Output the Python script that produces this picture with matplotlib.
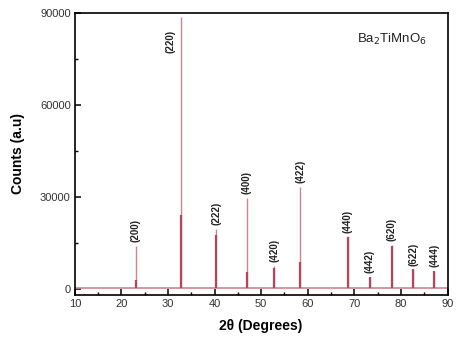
import matplotlib
matplotlib.use("Agg")
import matplotlib.pyplot as plt
from matplotlib.ticker import MultipleLocator

plt.rcParams['font.family'] = ['Liberation Sans', 'DejaVu Sans']

# Peak data
hkl = ["(200)", "(220)", "(222)", "(400)", "(420)", "(422)",
       "(440)", "(442)", "(620)", "(622)", "(444)"]
two_theta = [23.05, 32.85, 40.4, 46.9, 52.85, 58.4, 68.6, 73.3, 78.0, 82.6, 87.2]
intensity = [14100, 88700, 19600, 29700, 7700, 33300, 17200, 4000, 14400, 6500, 6000]
shoulder = [3000, 24000, 17500, 5500, 7000, 9000, 17000, 4000, 14000, 6500, 6000]
baseline_x = [10, 90]
baseline_y = [300, 300]

fig = plt.figure(figsize=(4.59, 3.41), dpi=100)
ax = fig.add_axes([0.163, 0.135, 0.812, 0.827])

thin_c = '#c98590'
thick_c = '#b5445f'
ax.plot(baseline_x, baseline_y, color=thin_c, lw=1.2, zorder=2)
ax.vlines(two_theta, baseline_y[0], intensity, color=thin_c, lw=1.0, zorder=2)
ax.vlines(two_theta, baseline_y[0], shoulder, color=thick_c, lw=1.6, zorder=3)

for h, x, y in zip(hkl, two_theta, intensity):
    if h == "(220)":
        ax.text(x - 2.4, 84500, h, rotation=90, ha='center', va='top',
                fontsize=7, fontweight='bold', color='#222222')
    else:
        ax.text(x, y + 1200, h, rotation=90, ha='center', va='bottom',
                fontsize=7, fontweight='bold', color='#222222')

ax.text(0.945, 0.905, r'Ba$_2$TiMnO$_6$', transform=ax.transAxes,
        ha='right', va='center', fontsize=9.5, color='#222222')

ax.set_xlim(10, 90)
ax.set_ylim(-1900, 90000)
ax.xaxis.set_major_locator(MultipleLocator(10))
ax.xaxis.set_minor_locator(MultipleLocator(5))
ax.yaxis.set_major_locator(MultipleLocator(30000))
ax.yaxis.set_minor_locator(MultipleLocator(15000))
ax.tick_params(which='major', direction='in', length=4, width=1.1,
               labelsize=8, labelcolor='#333333', pad=3)
ax.tick_params(which='minor', direction='in', length=2.5, width=1.0)
for s in ax.spines.values():
    s.set_linewidth(1.2)

ax.set_xlabel('2θ (Degrees)', fontsize=10, fontweight='bold', labelpad=7)
ax.set_ylabel('Counts (a.u)', fontsize=10, fontweight='bold', labelpad=11)

fig.savefig('out.png', dpi=100)
